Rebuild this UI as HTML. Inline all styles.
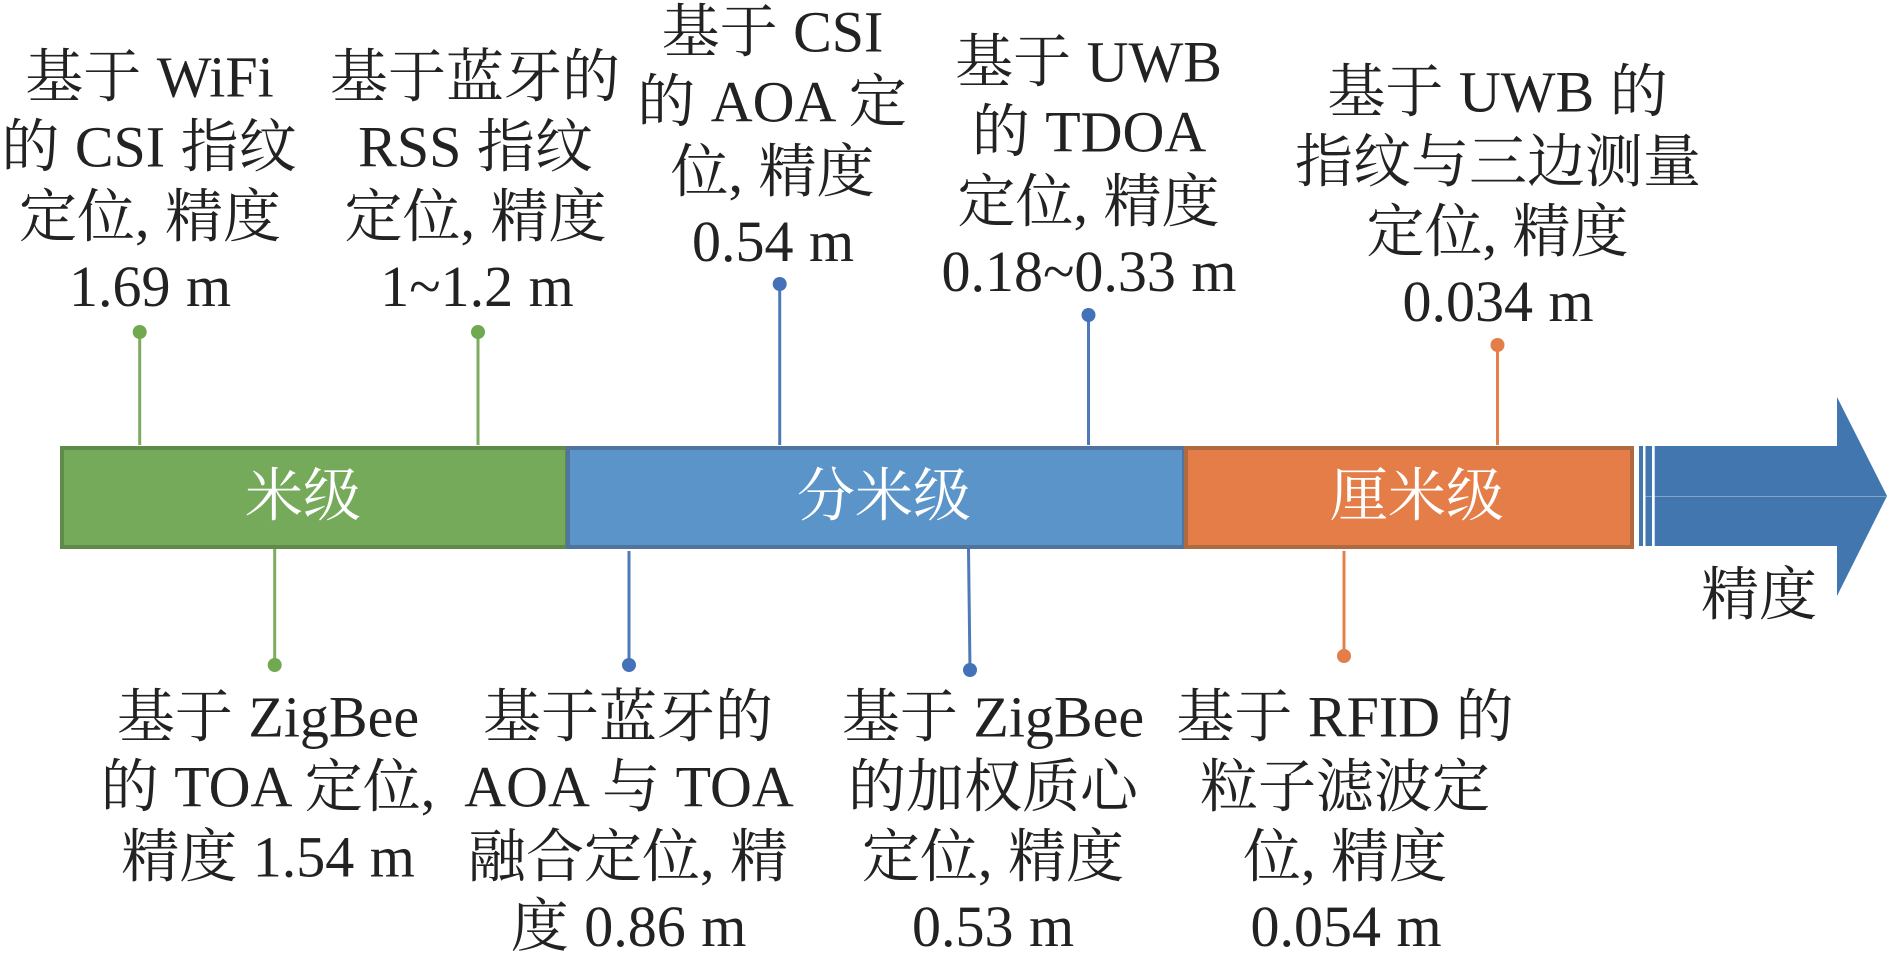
<!DOCTYPE html>
<html>
<head>
<meta charset="utf-8">
<style>
html,body{margin:0;padding:0;background:#fff;width:1890px;height:963px;overflow:hidden}
svg{display:block}
text{font-family:"Liberation Serif","Noto Serif CJK SC",serif;font-size:58px;fill:#222;text-anchor:middle;word-spacing:1px}
text.w{fill:#fff}
</style>
</head>
<body>
<svg width="1890" height="963" viewBox="0 0 1890 963" xmlns="http://www.w3.org/2000/svg">
<rect width="1890" height="963" fill="#fff"/>

<!-- arrow -->
<polygon points="1639,446 1837,446 1837,397 1887,496 1837,596 1837,546 1639,546" fill="#4176ae"/>
<line x1="1645" y1="496.5" x2="1886" y2="496.5" stroke="#7fa5cc" stroke-width="1"/>
<rect x="1643" y="444" width="2.5" height="104" fill="#fff"/>
<rect x="1652" y="444" width="2.7" height="104" fill="#fff"/>

<!-- segments -->
<rect x="62" y="448" width="505" height="99" fill="#75aa5a" stroke="#5f8a48" stroke-width="4"/>
<rect x="568" y="448" width="616" height="99" fill="#5a94c8" stroke="#4e749f" stroke-width="4"/>
<rect x="1186" y="448" width="446" height="99" fill="#e47d48" stroke="#ae6a40" stroke-width="4"/>

<text class="w" x="303" y="515.5">米级</text>
<text class="w" x="884" y="515.5">分米级</text>
<text class="w" x="1417" y="515.5">厘米级</text>

<!-- connectors -->
<g stroke-width="3">
<line x1="139.7" y1="332" x2="139.7" y2="445" stroke="#7dab61"/>
<line x1="478" y1="332" x2="478" y2="445" stroke="#7dab61"/>
<line x1="779.7" y1="284" x2="779.7" y2="445" stroke="#4f79b8"/>
<line x1="1088.5" y1="315" x2="1088.5" y2="445" stroke="#4f79b8"/>
<line x1="1497.5" y1="345" x2="1497.5" y2="445" stroke="#e4804c"/>
<line x1="274.7" y1="549" x2="274.7" y2="665" stroke="#7dab61"/>
<line x1="629" y1="551" x2="629" y2="665" stroke="#4f79b8"/>
<line x1="968.5" y1="549" x2="970" y2="670" stroke="#4f79b8"/>
<line x1="1344" y1="551" x2="1344" y2="656" stroke="#e4804c"/>
</g>
<circle cx="139.7" cy="332" r="7" fill="#70a950"/>
<circle cx="478" cy="332" r="7" fill="#70a950"/>
<circle cx="779.7" cy="284" r="7" fill="#4472b8"/>
<circle cx="1088.5" cy="315" r="7" fill="#4472b8"/>
<circle cx="1497.5" cy="345" r="7" fill="#e47d48"/>
<circle cx="274.7" cy="665" r="7" fill="#70a950"/>
<circle cx="629" cy="665" r="7" fill="#4472b8"/>
<circle cx="970" cy="670" r="7" fill="#4472b8"/>
<circle cx="1344" cy="656" r="7" fill="#e47d48"/>

<!-- top labels -->
<text x="149.5" y="96.5">基于 WiFi</text>
<text x="149" y="166.5">的 CSI 指纹</text>
<text x="150" y="236.5">定位, 精度</text>
<text x="150" y="306">1.69 m</text>

<text x="475" y="96.5">基于蓝牙的</text>
<text x="475.5" y="166.5">RSS 指纹</text>
<text x="475.5" y="236.5">定位, 精度</text>
<text x="477" y="306">1~1.2 m</text>

<text x="772.5" y="51.5">基于 CSI</text>
<text x="772" y="121.5">的 AOA 定</text>
<text x="772.5" y="191.5">位, 精度</text>
<text x="773" y="261">0.54 m</text>

<text x="1088.5" y="81.5">基于 UWB</text>
<text x="1089" y="151.5">的 TDOA</text>
<text x="1088.5" y="221.5">定位, 精度</text>
<text x="1089" y="291">0.18~0.33 m</text>

<text x="1497.5" y="111.5">基于 UWB 的</text>
<text x="1498" y="181.5">指纹与三边测量</text>
<text x="1497.5" y="251.5">定位, 精度</text>
<text x="1498" y="321">0.034 m</text>

<!-- bottom labels -->
<text x="268" y="736.5">基于 ZigBee</text>
<text x="268" y="806.5">的 TOA 定位,</text>
<text x="268" y="876.5">精度 1.54 m</text>

<text x="628" y="736.5">基于蓝牙的</text>
<text x="629" y="806.5">AOA 与 TOA</text>
<text x="628" y="876.5">融合定位, 精</text>
<text x="628.5" y="946">度 0.86 m</text>

<text x="993" y="736.5">基于 ZigBee</text>
<text x="993" y="806.5">的加权质心</text>
<text x="993" y="876.5">定位, 精度</text>
<text x="993" y="946">0.53 m</text>

<text x="1345" y="736.5">基于 RFID 的</text>
<text x="1345" y="806.5">粒子滤波定</text>
<text x="1345" y="876.5">位, 精度</text>
<text x="1346" y="946">0.054 m</text>

<text x="1759" y="614.5">精度</text>
</svg>
</body>
</html>
